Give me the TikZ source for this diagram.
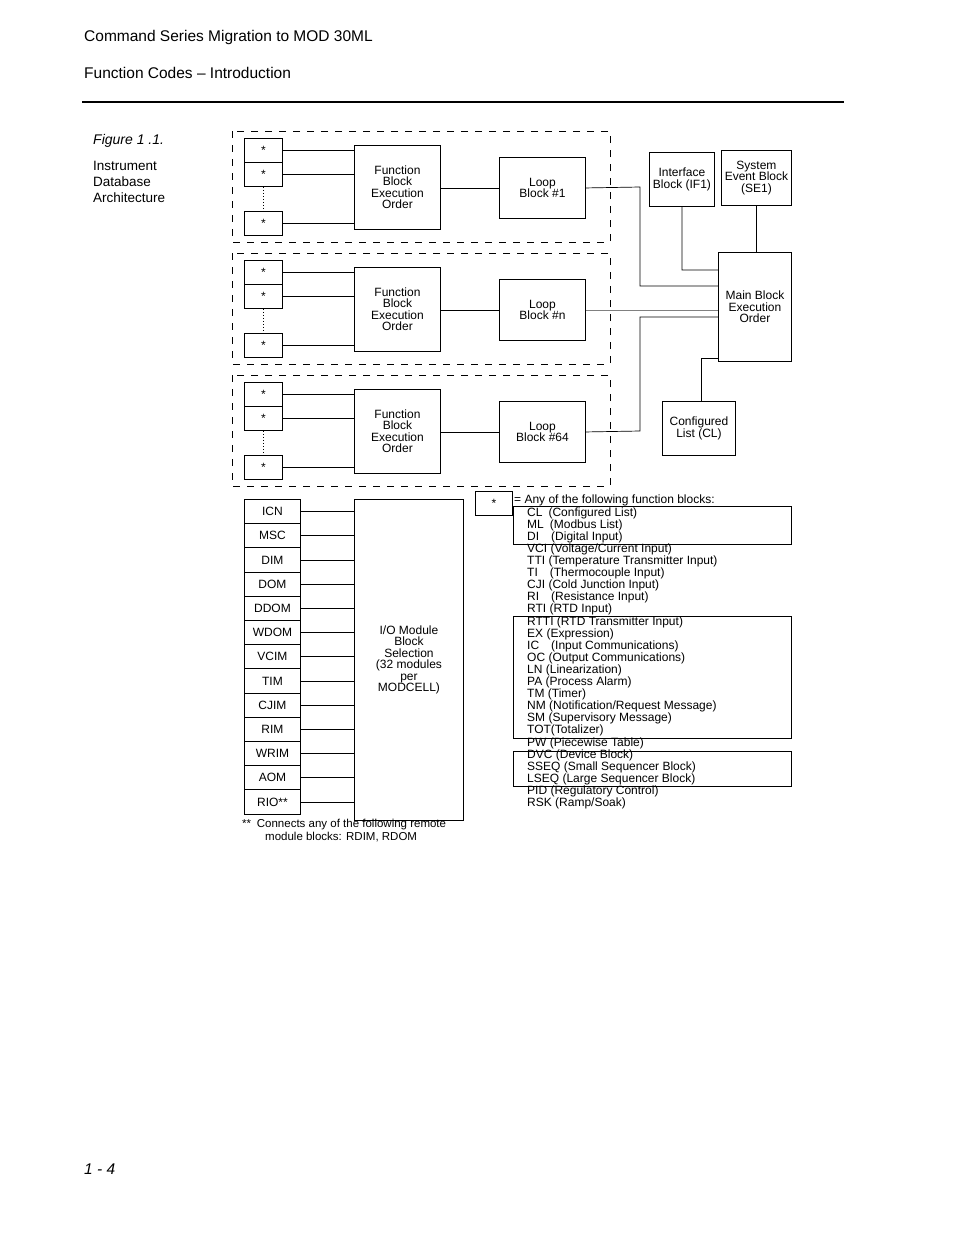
\documentclass[tikz,border=0pt]{standalone}
\usepackage{fontspec}
\setmainfont{Liberation Sans}
\begin{document}
\begin{tikzpicture}[x=1pt,y=-1pt,
  bx/.style={draw,line width=0.9pt,inner sep=0pt},
  ln/.style={line width=0.7pt},
  dsh/.style={draw,line width=1pt,dash pattern=on 7pt off 7pt},
  sm/.style={font=\fontsize{12}{11.5}\selectfont,align=center}]
\useasboundingbox (0,0) rectangle (954,1235);
\node[anchor=west,inner sep=0pt,font=\fontsize{15.5}{13}\selectfont] (h1) at (84,37) {Command Series Migration to MOD 30ML};
\node[anchor=west,inner sep=0pt,font=\fontsize{15.5}{13}\selectfont] (h2) at (84,73) {Function Codes – Introduction};
\draw[line width=1.3pt] (82,102) -- (844,102);
\node[anchor=west,inner sep=0pt,font=\itshape\fontsize{15.5}{13}\selectfont] (pg) at (84,1169) {1 - 4};
\node[anchor=west,inner sep=0pt,font=\itshape\fontsize{14}{13}\selectfont] (fig) at (93,141) {Figure 1 .1.};
\node[anchor=north west,inner sep=0pt,align=left,font=\fontsize{13.5}{16}\selectfont] (cap) at (93,161) {Instrument\\Database\\Architecture};
% groups
\foreach \o/\lab/\g in {0/Block \#1/1,122/Block \#n/2,244/Block \#64/3}{
  \draw[dsh] (232,131+\o) rectangle (610,242+\o);
  \node[bx,sm,minimum width=38,minimum height=24,anchor=north west] (s1\g) at (244,138+\o) {*};
  \node[bx,sm,minimum width=38,minimum height=24,anchor=north west] (s2\g) at (244,162+\o) {*};
  \node[bx,sm,minimum width=38,minimum height=24,anchor=north west] (s3\g) at (244,211+\o) {*};
  \draw[line width=1pt,dotted] (s2\g.south) -- (s3\g.north);
  \node[bx,sm,minimum width=86,minimum height=84,anchor=north west] (f\g) at (354,145+\o) {Function\\Block\\Execution\\Order};
  \node[bx,sm,minimum width=86,minimum height=61,anchor=north west] (l\g) at (499,157+\o) {Loop\\\lab};
  \draw[ln] (s1\g.east) -- (f\g.west |- s1\g.east);
  \draw[ln] (s2\g.east) -- (f\g.west |- s2\g.east);
  \draw[ln] (s3\g.east) -- (f\g.west |- s3\g.east);
  \draw[ln] (f\g.east |- l\g.west) -- (l\g.west);
}
\node[bx,sm,minimum width=65,minimum height=54,anchor=north west] (if) at (649,152) {Interface\\Block (IF1)};
\node[bx,sm,minimum width=70,minimum height=55,anchor=north west] (se) at (721,150) {System\\Event Block\\(SE1)};
\node[bx,sm,minimum width=73,minimum height=109,anchor=north west] (mb) at (718,252) {Main Block\\Execution\\Order};
\node[bx,sm,minimum width=73,minimum height=54,anchor=north west] (cl) at (662,401) {Configured\\List (CL)};
\coordinate (c1) at (640,187);
\draw[ln] (l1.east) -- (c1) -- (640,286) -- (mb.west |- 0,286);
\draw[ln,gray] (l2.east) -- (mb.west |- l2.east);
\draw[ln] (l3.east) -- (640,431) -- (640,317) -- (mb.west |- 0,317);
\draw[ln] (if.south) -- (682,270) -- (mb.west |- 0,270);
\draw[ln] (se.south) -- (se.south |- mb.north);
\coordinate (c2) at (701,358);
\draw[ln] (cl.north -| c2) -- (c2) -- (mb.west |- c2);
% modules
\node[bx,sm,minimum width=109,minimum height=321,anchor=north west] (io) at (354,499) {I/O Module\\Block\\Selection\\(32 modules\\per\\MODCELL)};
\foreach \t [count=\i from 0] in {ICN,MSC,DIM,DOM,DDOM,WDOM,VCIM,TIM,CJIM,RIM,WRIM,AOM,RIO**}{
  \node[bx,sm,minimum width=56,minimum height=24.2,anchor=north west] (m\i) at (244,499+24.2*\i) {\t};
  \draw[ln] (m\i.east) -- (io.west |- m\i.east);
}
\node[anchor=north west,inner sep=0pt,font=\fontsize{11.5}{13}\selectfont,align=left] (fn) at (242,819) {**\enspace Connects any of the following remote\\\hspace*{23pt}module blocks: RDIM, RDOM};
% legend
\node[bx,sm,minimum width=37,minimum height=24,anchor=north west] (ls) at (475,491) {*};
\node[anchor=west,font=\fontsize{12}{10}\selectfont,inner sep=0pt] (leg) at (514,500) {= Any of the following function blocks:};
\foreach \t [count=\i from 0] in {CL\enspace(Configured List),ML\enspace(Modbus List),DI\quad(Digital Input),VCI (Voltage/Current Input),TTI (Temperature Transmitter Input),TI\quad(Thermocouple Input),CJI (Cold Junction Input),RI\quad(Resistance Input),RTI (RTD Input),RTTI (RTD Transmitter Input),EX (Expression),IC\quad(Input Communications),OC (Output Communications),LN (Linearization),PA (Process Alarm),TM (Timer),NM (Notification/Request Message),SM (Supervisory Message),TOT(Totalizer),PW (Piecewise Table),DVC (Device Block),SSEQ (Small Sequencer Block),LSEQ (Large Sequencer Block),PID (Regulatory Control),RSK (Ramp/Soak)}{
  \node[anchor=west,inner sep=0pt,font=\fontsize{12}{10}\selectfont] (t\i) at (527,513+12.1*\i) {\t};
}
\draw[line width=0.9pt] (513,506) rectangle (791,544);
\draw[line width=0.9pt] (513,616) rectangle (791,738);
\draw[line width=0.9pt] (513,751) rectangle (791,786);
\end{tikzpicture}
\end{document}
